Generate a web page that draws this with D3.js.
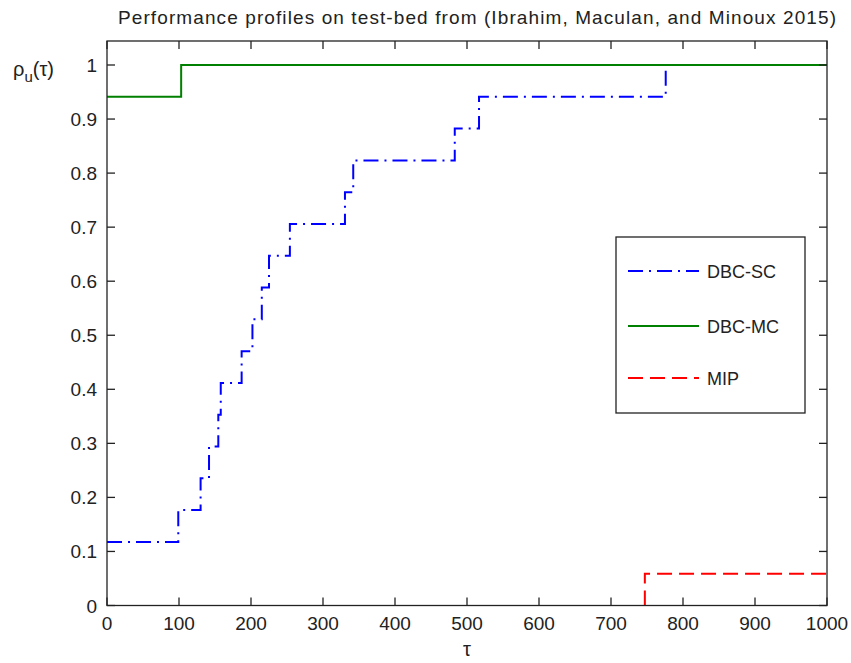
<!DOCTYPE html>
<html lang="en">
<head>
    <meta charset="UTF-8">
    <title>Performance profiles</title>
    <script src="https://d3js.org/d3.v7.min.js"></script>
    <style>
        body { margin: 0; background: #fff; }
        text { font-family: "Liberation Sans", Arial, sans-serif; fill: #222; }
        .tick-label { font-size: 19px; }
        .axis-line { stroke: #222; stroke-width: 1.3px; fill: none; }
    </style>
</head>
<body>
    <script>
        // Performance profile data (tau vs fraction of instances, 17 instances)
        const tauSC = [0, 99, 130, 141.7, 154.6, 158, 187, 202, 215, 225, 254, 330.5, 342, 483, 516.7, 776, 1000];
        const rhoSC = [2, 3, 4, 5, 6, 7, 8, 9, 10, 11, 12, 13, 14, 15, 16, 17, 17].map(k => k / 17);

        const tauMC = [0, 103, 1000];
        const rhoMC = [16 / 17, 1, 1];

        // MIP stays at 0 (hidden by the axis) until tau = 747
        const tauMIP = [747, 747, 1000];
        const rhoMIP = [0, 1 / 17, 1 / 17];

        const xTicks = [0, 100, 200, 300, 400, 500, 600, 700, 800, 900, 1000];
        const yTicks = [0, 0.1, 0.2, 0.3, 0.4, 0.5, 0.6, 0.7, 0.8, 0.9, 1];
        const legendNames = ["DBC-SC", "DBC-MC", "MIP"];

        const width = 851, height = 663;
        const plotLeft = 107, plotRight = 827, plotTop = 41, plotBottom = 605.5;

        const svg = d3.select("body").append("svg")
            .attr("width", width)
            .attr("height", height);

        const x = d3.scaleLinear().domain([0, 1000]).range([plotLeft, plotRight]);
        const y = d3.scaleLinear().domain([0, 1.0444]).range([plotBottom, plotTop]);

        const series = [
            { name: legendNames[0], tau: tauSC, rho: rhoSC, color: "#0000ff", dash: "15,6,2,6" },
            { name: legendNames[1], tau: tauMC, rho: rhoMC, color: "#008000", dash: null },
            { name: legendNames[2], tau: tauMIP, rho: rhoMIP, color: "#ff0000", dash: "15,7" }
        ];

        const line = d3.line()
            .x(d => x(d[0]))
            .y(d => y(d[1]))
            .curve(d3.curveStepAfter);

        // curves
        const curves = svg.append("g");
        series.forEach(s => {
            curves.append("path")
                .datum(s.tau.map((t, i) => [t, s.rho[i]]))
                .attr("d", line)
                .attr("fill", "none")
                .attr("stroke", s.color)
                .attr("stroke-width", 2)
                .attr("stroke-dasharray", s.dash);
        });

        // box and ticks (MATLAB style, ticks inward on all sides)
        const tickLen = 8;
        const axes = svg.append("g");
        axes.append("rect")
            .attr("class", "axis-line")
            .attr("x", plotLeft).attr("y", plotTop)
            .attr("width", plotRight - plotLeft).attr("height", plotBottom - plotTop);

        xTicks.forEach(t => {
            axes.append("line").attr("class", "axis-line")
                .attr("x1", x(t)).attr("x2", x(t))
                .attr("y1", plotBottom).attr("y2", plotBottom - tickLen);
            axes.append("line").attr("class", "axis-line")
                .attr("x1", x(t)).attr("x2", x(t))
                .attr("y1", plotTop).attr("y2", plotTop + tickLen);
            axes.append("text").attr("class", "tick-label")
                .attr("x", x(t)).attr("y", plotBottom + 24)
                .attr("text-anchor", "middle")
                .text(t);
        });

        yTicks.forEach(t => {
            axes.append("line").attr("class", "axis-line")
                .attr("x1", plotLeft).attr("x2", plotLeft + tickLen)
                .attr("y1", y(t)).attr("y2", y(t));
            axes.append("line").attr("class", "axis-line")
                .attr("x1", plotRight).attr("x2", plotRight - tickLen)
                .attr("y1", y(t)).attr("y2", y(t));
            axes.append("text").attr("class", "tick-label")
                .attr("x", plotLeft - 10).attr("y", y(t) + 7)
                .attr("text-anchor", "end")
                .text(d3.format("~g")(t));
        });

        // title and axis labels
        svg.append("text")
            .attr("x", 118).attr("y", 24)
            .attr("textLength", 718)
            .attr("lengthAdjust", "spacing")
            .style("font-size", "19px")
            .text("Performance profiles on test-bed from (Ibrahim, Maculan, and Minoux 2015)");

        const yl = svg.append("text")
            .attr("x", 13).attr("y", 76)
            .style("font-size", "20px");
        yl.append("tspan").text("ρ");
        yl.append("tspan").attr("dy", 6).style("font-size", "15px").text("u");
        yl.append("tspan").attr("dy", -6).text("(τ)");

        svg.append("text")
            .attr("x", (plotLeft + plotRight) / 2).attr("y", 656)
            .attr("text-anchor", "middle")
            .style("font-size", "20px")
            .text("τ");

        // legend
        const lg = svg.append("g");
        lg.append("rect")
            .attr("x", 616).attr("y", 237)
            .attr("width", 189).attr("height", 176)
            .attr("fill", "#fff")
            .attr("stroke", "#222")
            .attr("stroke-width", 1.3);
        const rowY = [271, 326, 378];
        series.forEach((s, i) => {
            lg.append("line")
                .attr("x1", 628).attr("x2", 699)
                .attr("y1", rowY[i]).attr("y2", rowY[i])
                .attr("stroke", s.color)
                .attr("stroke-width", 2)
                .attr("stroke-dasharray", s.dash);
            lg.append("text")
                .attr("x", 707).attr("y", rowY[i] + 7)
                .style("font-size", "18px")
                .text(s.name);
        });
    </script>
</body>
</html>
